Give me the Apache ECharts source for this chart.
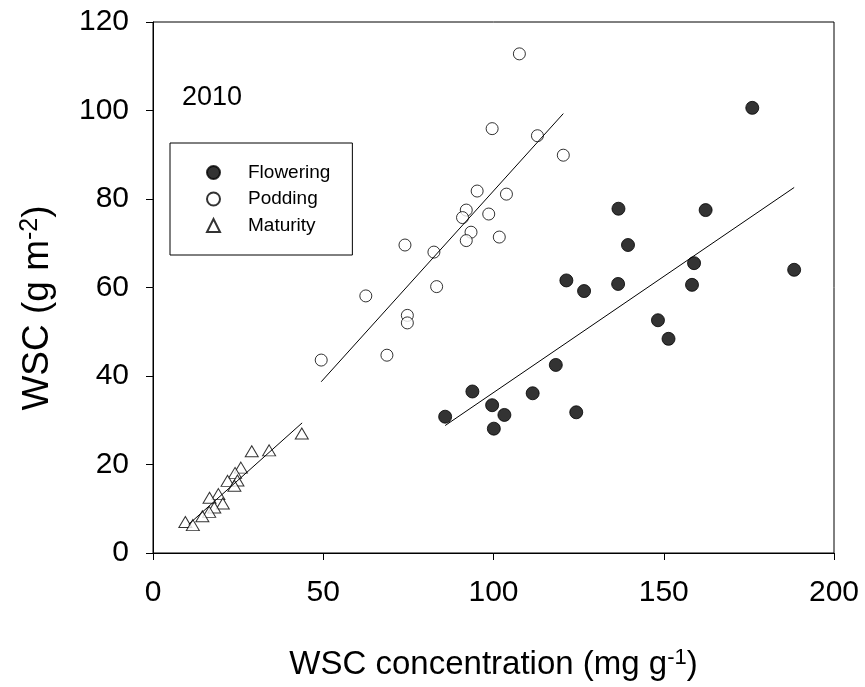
<!DOCTYPE html>
<html>
<head>
<meta charset="utf-8">
<script src="https://cdn.jsdelivr.net/npm/echarts@6/dist/echarts.min.js"></script>
<style>
  html, body { margin: 0; padding: 0; background: #fff; }
  #chart { width: 865px; height: 687px; }
</style>
</head>
<body>
<div id="chart"></div>
<script>
// WSC content vs. WSC concentration, 2010, by growth stage
const floweringX = [136.7, 162.3, 139.5, 158.9, 188.3, 121.4, 126.6, 136.6, 158.3, 148.3,
                    151.4, 118.3, 93.8, 111.5, 99.6, 103.2, 85.8, 124.3, 100.1, 176.0];
const floweringY = [77.8, 77.5, 69.6, 65.5, 64.0, 61.6, 59.2, 60.8, 60.6, 52.6,
                    48.4, 42.5, 36.5, 36.1, 33.4, 31.2, 30.8, 31.8, 28.1, 100.6];

const poddingX = [107.6, 99.6, 112.9, 120.5, 95.2, 103.8, 92.0, 90.9, 98.6, 93.4,
                  92.0, 101.7, 74.0, 82.5, 83.3, 62.5, 74.7, 74.7, 68.7, 49.4];
const poddingY = [112.8, 95.9, 94.3, 89.9, 81.8, 81.1, 77.5, 75.8, 76.6, 72.5,
                  70.6, 71.4, 69.6, 68.0, 60.2, 58.1, 53.7, 52.0, 44.7, 43.6];

const maturityX = [43.7, 34.1, 29.0, 25.8, 24.1, 21.9, 24.8, 23.9, 19.2, 16.6,
                   20.5, 18.0, 16.5, 14.5, 9.5, 11.7];
const maturityY = [27.0, 23.2, 23.0, 19.3, 18.1, 16.3, 16.4, 15.2, 13.3, 12.5,
                   11.2, 10.3, 9.3, 8.3, 7.0, 6.3];

// regression line end points [x, y]
const floweringFit = [[85.8, 28.8], [188.3, 82.6]];
const poddingFit   = [[49.4, 38.7], [120.5, 99.3]];
const maturityFit  = [[10.5, 6.5], [43.8, 29.4]];

const stageNames = ['Flowering', 'Podding', 'Maturity'];
const xTicks = { min: 0, max: 200, interval: 50 };
const yTicks = { min: 0, max: 120, interval: 20 };

const FONT = '"Liberation Sans", Arial, sans-serif';
const pairs = (xs, ys) => xs.map((x, i) => [x, ys[i]]);

const chart = echarts.init(document.getElementById('chart'), null, { renderer: 'canvas' });

const fitLine = (data) => ({
  type: 'line',
  data: data,
  showSymbol: false,
  symbol: 'none',
  silent: true,
  z: 5,
  lineStyle: { color: '#000', width: 1 }
});

const supStyle = (size) => ({ fontFamily: FONT, fontSize: size, fill: '#000', color: '#000',
                              verticalAlign: 'top', padding: [0, 0, Math.round(size * 0.6), 0] });

const option = {
  backgroundColor: '#fff',
  animation: false,
  textStyle: { fontFamily: FONT },
  grid: {
    left: 153, top: 22, right: 31, bottom: 134,
    show: true, borderColor: '#000', borderWidth: 1, backgroundColor: 'transparent'
  },
  legend: {
    data: stageNames,
    orient: 'vertical',
    left: 170, top: 143,
    padding: [20, 22, 20, 36],
    itemGap: 7.5,
    itemWidth: 13, itemHeight: 13,
    borderColor: '#000', borderWidth: 1,
    textStyle: { fontFamily: FONT, fontSize: 19, lineHeight: 19, color: '#000', padding: [0, 0, 0, 23] }
  },
  xAxis: {
    type: 'value',
    min: xTicks.min, max: xTicks.max, interval: xTicks.interval,
    splitLine: { show: false },
    axisLine: { show: true, lineStyle: { color: '#000', width: 1 } },
    axisTick: { show: true, inside: false, length: 7, lineStyle: { color: '#000' } },
    axisLabel: { fontFamily: FONT, fontSize: 30, color: '#000', margin: 25 },
    name: 'WSC concentration (mg g{sup|-1})',
    nameLocation: 'middle',
    nameGap: 94,
    nameTextStyle: {
      fontFamily: FONT, fontSize: 33, color: '#000',
      rich: { sup: supStyle(22) }
    }
  },
  yAxis: {
    type: 'value',
    min: yTicks.min, max: yTicks.max, interval: yTicks.interval,
    splitLine: { show: false },
    axisLine: { show: true, lineStyle: { color: '#000', width: 1 } },
    axisTick: { show: true, inside: false, length: 7, lineStyle: { color: '#000' } },
    axisLabel: { fontFamily: FONT, fontSize: 30, color: '#000', margin: 24 }
  },
  graphic: [
    {
      type: 'text',
      left: 182, top: 84,
      style: { text: '2010', fontFamily: FONT, fontSize: 27, fill: '#000' }
    },
    {
      type: 'text',
      x: 38, y: 308,
      rotation: Math.PI / 2,
      style: {
        text: 'WSC (g m{sup|-2})',
        fontFamily: FONT, fontSize: 37, fill: '#000',
        align: 'center', verticalAlign: 'middle',
        rich: { sup: supStyle(25) }
      }
    }
  ],
  series: [
    {
      name: 'Flowering', type: 'scatter', symbol: 'circle', symbolSize: 13,
      data: pairs(floweringX, floweringY),
      itemStyle: { color: '#000', borderColor: '#000', borderWidth: 1 }
    },
    {
      name: 'Podding', type: 'scatter', symbol: 'circle', symbolSize: 12,
      data: pairs(poddingX, poddingY),
      itemStyle: { color: '#fff', borderColor: '#000', borderWidth: 1 }
    },
    {
      name: 'Maturity', type: 'scatter', symbol: 'triangle', symbolSize: [13, 11],
      data: pairs(maturityX, maturityY),
      itemStyle: { color: '#fff', borderColor: '#000', borderWidth: 1 }
    },
    fitLine(floweringFit),
    fitLine(poddingFit),
    fitLine(maturityFit)
  ]
};

chart.setOption(option);
</script>
</body>
</html>
